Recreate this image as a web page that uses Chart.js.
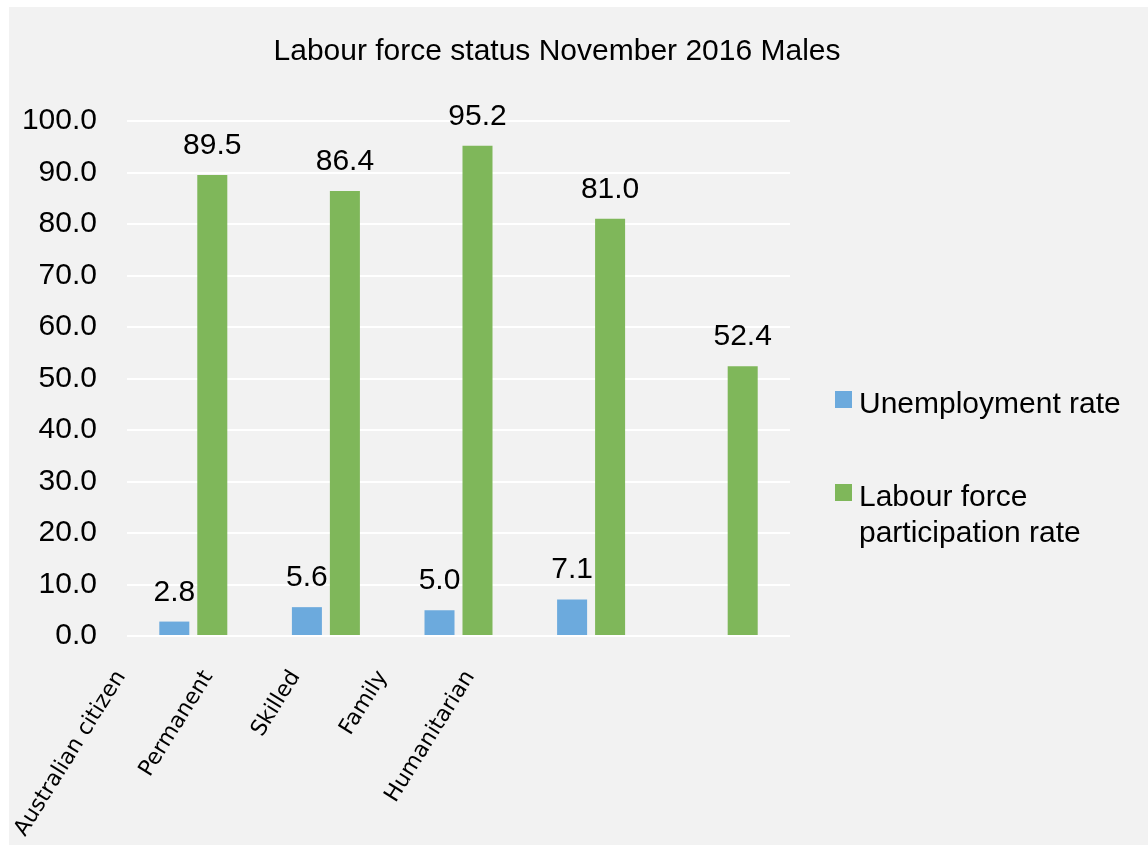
<!DOCTYPE html>
<html>
<head>
<meta charset="utf-8">
<title>Labour force status November 2016 Males</title>
<script src="https://cdn.jsdelivr.net/npm/chart.js@4.4.1/dist/chart.umd.min.js"></script>
<style>
    html, body { margin: 0; padding: 0; background: #ffffff; }
    #chartBox { position: absolute; left: 9px; top: 7px; width: 1139px; height: 838px; background: #f2f2f2; }
</style>
</head>
<body>
<div id="chartBox"><canvas id="laborChart"></canvas></div>
<script>
// 데이터
const categories = ['Australian citizen', 'Permanent', 'Skilled', 'Family', 'Humanitarian'];
const unemploymentRate = [2.8, 5.6, 5.0, 7.1, null];
const participationRate = [89.5, 86.4, 95.2, 81.0, 52.4];
const seriesNames = ['Unemployment rate', 'Labour force participation rate'];
const legendLines = [['Unemployment rate'], ['Labour force', 'participation rate']];
const yTicks = [0, 10, 20, 30, 40, 50, 60, 70, 80, 90, 100];

const FONT = 'Liberation Sans';

// 막대 위에 값 표시
const barValueLabels = {
    id: 'barValueLabels',
    afterDatasetsDraw(chart) {
        const ctx = chart.ctx;
        ctx.save();
        ctx.font = '30px "' + FONT + '"';
        ctx.fillStyle = '#000';
        ctx.textAlign = 'center';
        ctx.textBaseline = 'alphabetic';
        chart.data.datasets.forEach((ds, i) => {
            chart.getDatasetMeta(i).data.forEach((bar, j) => {
                const v = ds.data[j];
                if (v === null || v === undefined) return;
                ctx.fillText(v.toFixed(1), bar.x, bar.y - 21);
            });
        });
        ctx.restore();
    }
};

// 오른쪽 범례 (두 줄 텍스트)
const sideLegend = {
    id: 'sideLegend',
    afterDraw(chart) {
        const ctx = chart.ctx;
        const x = chart.chartArea.right + 45;
        const tops = [384, 477];  // 마커 위치
        ctx.save();
        ctx.font = '30px "' + FONT + '"';
        ctx.textAlign = 'left';
        ctx.textBaseline = 'alphabetic';
        chart.data.datasets.forEach((ds, i) => {
            ctx.fillStyle = ds.backgroundColor;
            ctx.fillRect(x, tops[i], 17, 17);
            ctx.fillStyle = '#000';
            legendLines[i].forEach((line, k) => {
                ctx.fillText(line, x + 24, tops[i] + 22 + k * 36);
            });
        });
        ctx.restore();
    }
};

const ctx = document.getElementById('laborChart').getContext('2d');

new Chart(ctx, {
    type: 'bar',
    data: {
        labels: categories,
        datasets: [{
            label: seriesNames[0],
            data: unemploymentRate,
            backgroundColor: '#6caadd',
            barPercentage: 0.79,
            categoryPercentage: 0.573
        }, {
            label: seriesNames[1],
            data: participationRate,
            backgroundColor: '#7fb75a',
            barPercentage: 0.79,
            categoryPercentage: 0.573
        }]
    },
    options: {
        responsive: true,
        maintainAspectRatio: false,
        animation: false,
        layout: { padding: { left: 0, right: 43, top: 0, bottom: 0 } },
        plugins: {
            legend: { display: false },
            tooltip: { enabled: false },
            title: {
                display: true,
                text: 'Labour force status November 2016 Males',
                color: '#000',
                font: { family: FONT, size: 30, weight: 'normal' },
                padding: { top: 27, bottom: 51 }
            }
        },
        scales: {
            x: { display: false },
            y: {
                min: 0,
                max: 100,
                afterBuildTicks: axis => { axis.ticks = yTicks.map(v => ({ value: v })); },
                ticks: {
                    padding: 30,
                    color: '#000',
                    font: { family: FONT, size: 30 },
                    callback: v => v.toFixed(1)
                },
                grid: { color: '#ffffff', lineWidth: 2, drawTicks: false },
                border: { display: false },
                afterFit: axis => { axis.width = 118; }
            },
            // 카테고리 이름 (기울어진 라벨)
            labelAxis: {
                axis: 'x',
                type: 'linear',
                position: 'bottom',
                offset: false,
                bounds: 'data',
                min: 0.069,
                max: 7.664,
                afterBuildTicks: axis => { axis.ticks = categories.map((c, i) => ({ value: i })); },
                ticks: {
                    autoSkip: false,
                    minRotation: 58,
                    maxRotation: 58,
                    padding: 30,
                    color: '#000',
                    font: { family: 'DejaVu Sans', size: 22 },
                    callback: v => categories[v]
                },
                grid: { display: false, drawTicks: false, offset: false },
                border: { display: false },
                afterFit: axis => {
                    axis.height = 209;
                    axis.paddingLeft = 0;
                    axis.paddingRight = 0;
                }
            },
            // 범례 자리
            spacer: {
                axis: 'y',
                type: 'linear',
                position: 'right',
                ticks: { display: false },
                grid: { display: false, drawTicks: false },
                border: { display: false },
                afterFit: axis => { axis.width = 315; }
            }
        }
    },
    plugins: [barValueLabels, sideLegend]
});
</script>
</body>
</html>
